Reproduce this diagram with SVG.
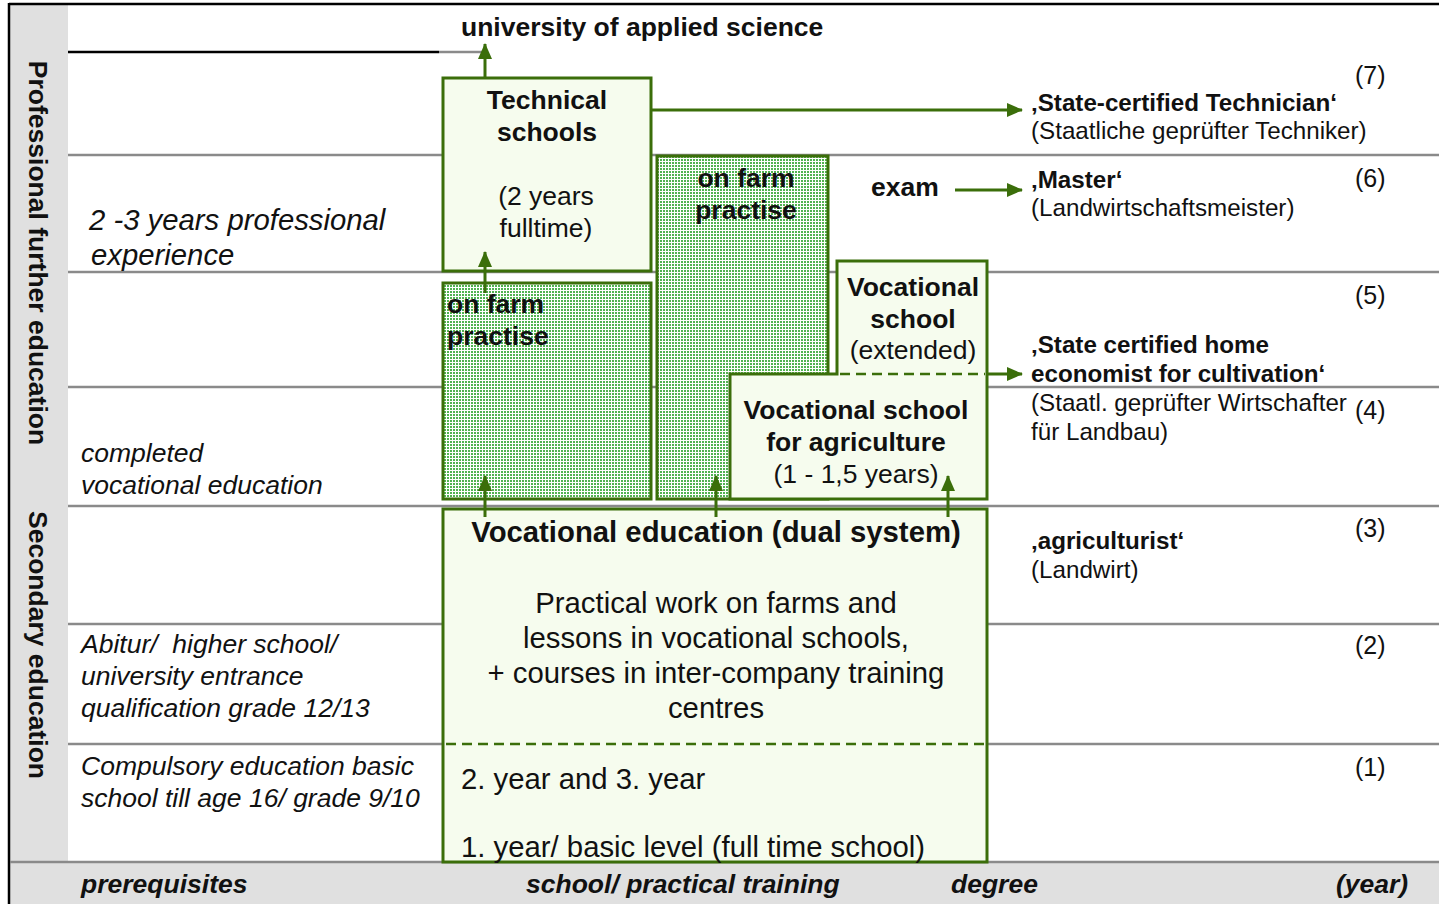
<svg xmlns="http://www.w3.org/2000/svg" width="1439" height="904" viewBox="0 0 1439 904">
<style>
text{font-family:"Liberation Sans",Arial,sans-serif;fill:#111;}
.b{font-weight:bold;}
.i{font-style:italic;}
.f26{font-size:26.5px;}
.f28{font-size:29.3px;}
.f24{font-size:24.2px;}
.f25{font-size:25px;}
.m{text-anchor:middle;}
.hl{stroke:#8a8a8a;stroke-width:2.5;fill:none;}
.box{fill:#f6fcee;stroke:#3b6e0a;stroke-width:3;}
.dot{fill:url(#dots);stroke:#3b6e0a;stroke-width:3;}
.dash{stroke:#3b6e0a;stroke-width:2.5;stroke-dasharray:10 6;fill:none;}
.arr{stroke:#3b6e0a;stroke-width:3;fill:none;marker-end:url(#ah);}
</style>
<defs>
<pattern id="dots" x="0" y="0" width="3" height="3" patternUnits="userSpaceOnUse">
<rect width="3" height="3" fill="#ffffff"/>
<rect width="2" height="2" fill="#52b252"/>
</pattern>
<marker id="ah" markerWidth="16" markerHeight="14" refX="15" refY="7" orient="auto" markerUnits="userSpaceOnUse">
<path d="M0,0 L16,7 L0,14 z" fill="#3b6e0a"/>
</marker>
</defs>
<g id="frame">
<rect x="0" y="0" width="1439" height="904" fill="#ffffff"/>
<rect x="10" y="4" width="58" height="858" fill="#e0e0e0"/>
<rect x="10" y="862" width="1429" height="42" fill="#e0e0e0"/>
<line x1="9" y1="4" x2="1439" y2="4" stroke="#000" stroke-width="2.5"/>
<line x1="9" y1="3" x2="9" y2="904" stroke="#000" stroke-width="2.5"/>
<line x1="68" y1="52" x2="439" y2="52" stroke="#000" stroke-width="2.5"/>
<line x1="439" y1="52" x2="485" y2="52" class="hl"/>
<line x1="68" y1="155" x2="1439" y2="155" class="hl"/>
<line x1="68" y1="272" x2="1439" y2="272" class="hl"/>
<line x1="68" y1="387" x2="1439" y2="387" class="hl"/>
<line x1="68" y1="506" x2="1439" y2="506" class="hl"/>
<line x1="68" y1="624" x2="1439" y2="624" class="hl"/>
<line x1="68" y1="744" x2="1439" y2="744" class="hl"/>
<line x1="10" y1="862" x2="1439" y2="862" class="hl"/>
</g>
<g id="side-labels">
<text class="b f26 m" transform="translate(29,253) rotate(90)">Professional further education</text>
<text class="b f26 m" transform="translate(29,645) rotate(90)">Secondary education</text>
</g>
<g id="prerequisites">
<text class="i f28" x="89" y="230">2 -3 years professional</text>
<text class="i f28" x="91" y="265">experience</text>
<text class="i f26" x="81" y="462">completed</text>
<text class="i f26" x="81" y="494">vocational education</text>
<text class="i f26" x="81" y="653" style="white-space:pre">Abitur/  higher school/</text>
<text class="i f26" x="81" y="685">university entrance</text>
<text class="i f26" x="81" y="717">qualification grade 12/13</text>
<text class="i f26" x="81" y="775">Compulsory education basic</text>
<text class="i f26" x="81" y="807">school till age 16/ grade 9/10</text>
</g>
<g id="footer">
<text class="b i f26" x="81" y="893">prerequisites</text>
<text class="b i f26" x="526" y="893">school/ practical training</text>
<text class="b i f26" x="951" y="893">degree</text>
<text class="b i f26" x="1336" y="893">(year)</text>
</g>
<g id="university">
<text class="b f26" x="461" y="36">university of applied science</text>
</g>
<g id="technical-schools">
<rect class="box" x="443" y="78" width="208" height="193"/>
<text class="b f26 m" x="547" y="109">Technical</text>
<text class="b f26 m" x="547" y="141">schools</text>
<text class="f26 m" x="546" y="205">(2 years</text>
<text class="f26 m" x="546" y="237">fulltime)</text>
</g>
<g id="farm-practise-1">
<rect class="dot" x="443" y="283" width="208" height="216"/>
<text class="b f26" x="447" y="313">on farm</text>
<text class="b f26" x="447" y="345">practise</text>
</g>
<g id="farm-practise-2">
<rect class="dot" x="657" y="156" width="171" height="343"/>
<text class="b f26 m" x="746" y="187">on farm</text>
<text class="b f26 m" x="746" y="219">practise</text>
</g>
<g id="exam">
<text class="b f26" x="871" y="196">exam</text>
</g>
<g id="vocational-school">
<path class="box" d="M837,261 H987 V499 H730 V374 H837 Z"/>
<line class="dash" x1="840" y1="374" x2="985" y2="374"/>
<text class="b f26 m" x="913" y="296">Vocational</text>
<text class="b f26 m" x="913" y="328">school</text>
<text class="f26 m" x="913" y="359">(extended)</text>
<text class="b f26 m" x="856" y="419">Vocational school</text>
<text class="b f26 m" x="856" y="451">for agriculture</text>
<text class="f26 m" x="856" y="483">(1 - 1,5 years)</text>
</g>
<g id="dual-system">
<rect class="box" x="443" y="509" width="544" height="353"/>
<line class="dash" x1="446" y1="744" x2="985" y2="744"/>
<text class="b f28 m" x="716" y="542">Vocational education (dual system)</text>
<text class="f28 m" x="716" y="613">Practical work on farms and</text>
<text class="f28 m" x="716" y="648">lessons in vocational schools,</text>
<text class="f28 m" x="716" y="683">+ courses in inter-company training</text>
<text class="f28 m" x="716" y="718">centres</text>
<text class="f28" x="461" y="789">2. year and 3. year</text>
<text class="f28" x="461" y="857">1. year/ basic level (full time school)</text>
</g>
<g id="degrees">
<text class="b f24" x="1031" y="111">‚State-certified Technician‘</text>
<text class="f24" x="1031" y="139">(Staatliche geprüfter Techniker)</text>
<text class="b f24" x="1031" y="188">‚Master‘</text>
<text class="f24" x="1031" y="216">(Landwirtschaftsmeister)</text>
<text class="b f24" x="1031" y="353">‚State certified home</text>
<text class="b f24" x="1031" y="382">economist for cultivation‘</text>
<text class="f24" x="1031" y="411">(Staatl. geprüfter Wirtschafter</text>
<text class="f24" x="1031" y="440">für Landbau)</text>
<text class="b f24" x="1031" y="549">‚agriculturist‘</text>
<text class="f24" x="1031" y="578">(Landwirt)</text>
</g>
<g id="years">
<text class="f25" x="1355" y="84">(7)</text>
<text class="f25" x="1355" y="187">(6)</text>
<text class="f25" x="1355" y="304">(5)</text>
<text class="f25" x="1355" y="419">(4)</text>
<text class="f25" x="1355" y="537">(3)</text>
<text class="f25" x="1355" y="654">(2)</text>
<text class="f25" x="1355" y="776">(1)</text>
</g>
<g id="connectors">
<line class="arr" x1="485" y1="78" x2="485" y2="44"/>
<line class="arr" x1="651" y1="110" x2="1022" y2="110"/>
<line class="arr" x1="955" y1="190" x2="1022" y2="190"/>
<line class="arr" x1="987" y1="374" x2="1022" y2="374"/>
<line class="arr" x1="485" y1="293" x2="485" y2="252"/>
<line class="arr" x1="485" y1="517" x2="485" y2="476"/>
<line class="arr" x1="716" y1="517" x2="716" y2="476"/>
<line class="arr" x1="948" y1="517" x2="948" y2="476"/>
</g>
</svg>
